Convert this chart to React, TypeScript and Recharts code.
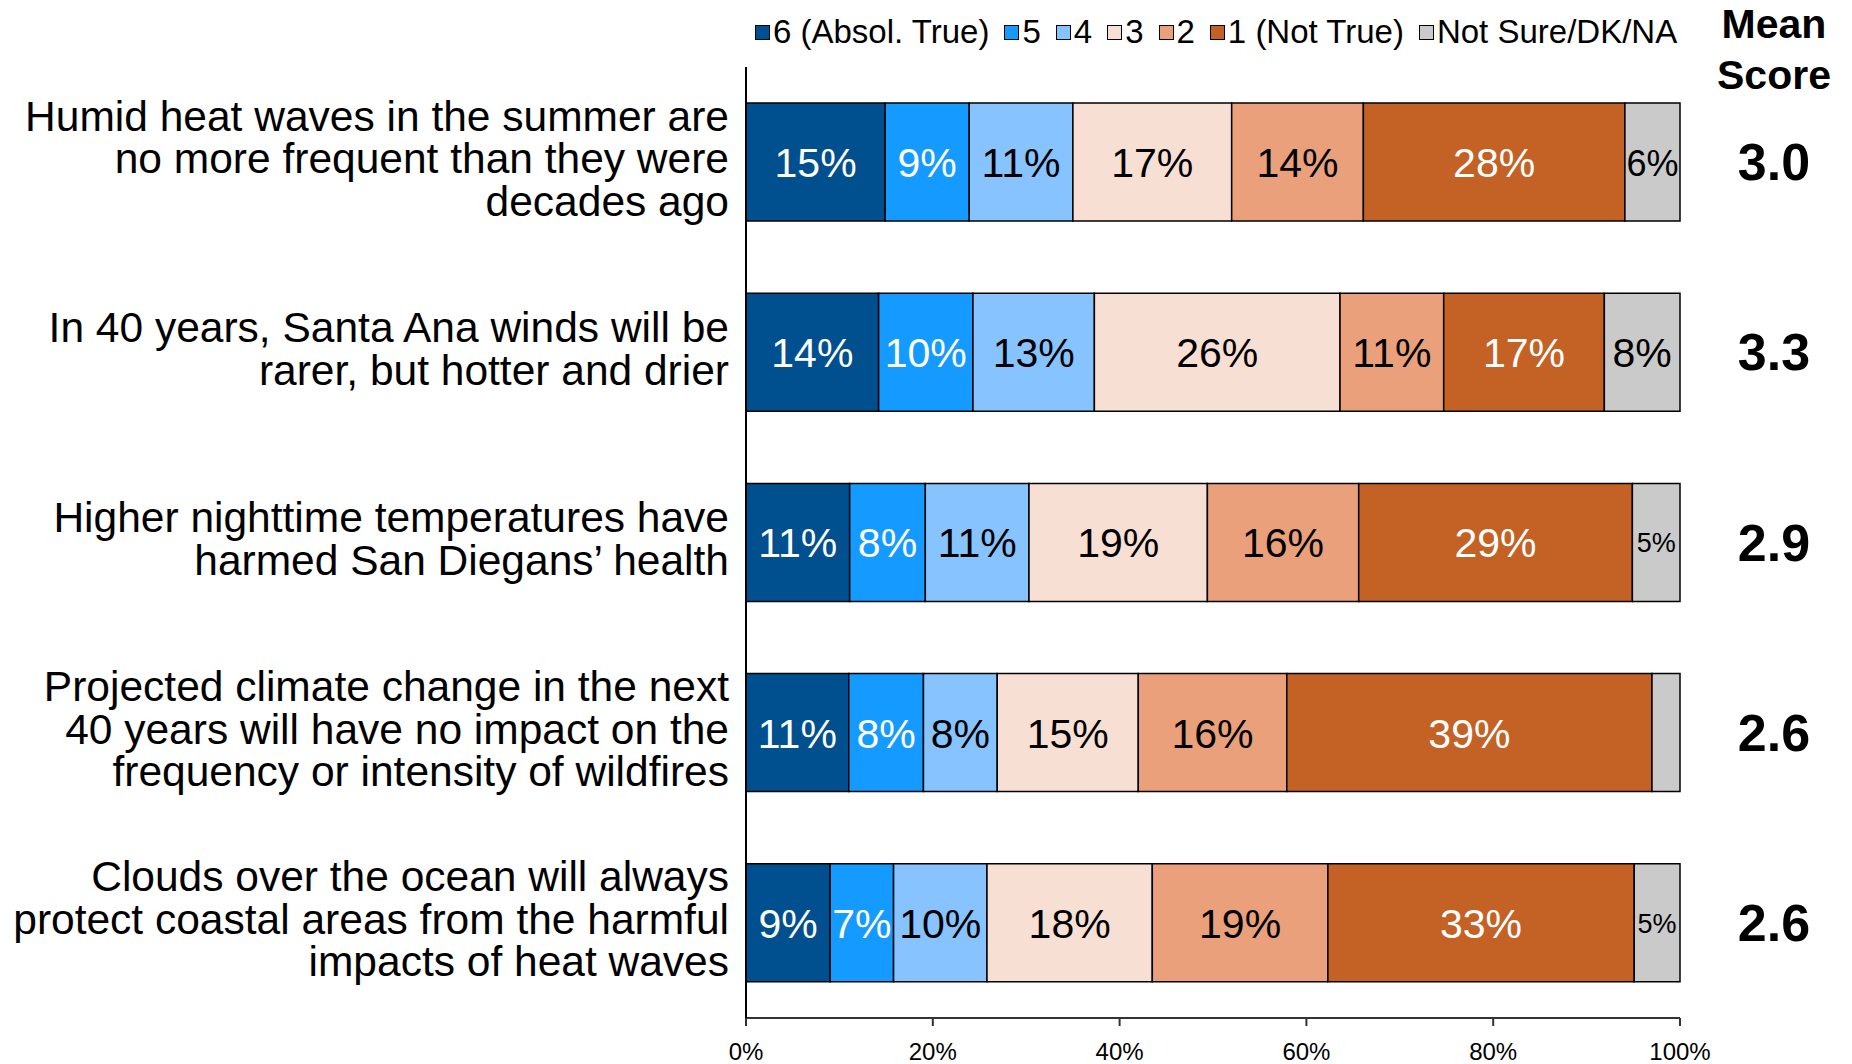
import React from 'react';
import { BarChart, Bar, XAxis, YAxis, LabelList, Legend } from 'recharts';

const questionLines = [
  ['Humid heat waves in the summer are', 'no more frequent than they were', 'decades ago'],
  ['In 40 years, Santa Ana winds will be', 'rarer, but hotter and drier'],
  ['Higher nighttime temperatures have', 'harmed San Diegans’ health'],
  ['Projected climate change in the next', '40 years will have no impact on the', 'frequency or intensity of wildfires'],
  ['Clouds over the ocean will always', 'protect coastal areas from the harmful', 'impacts of heat waves'],
];
const meanScores = ['3.0', '3.3', '2.9', '2.6', '2.6'];

// share of answers, %
const absolTrue = [14.9, 14.2, 11.1, 11.0, 9.0];
const five = [9.0, 10.1, 8.1, 8.0, 6.8];
const four = [11.1, 13.0, 11.1, 7.9, 10.0];
const three = [17.0, 26.3, 19.1, 15.1, 17.7];
const two = [14.1, 11.1, 16.2, 15.9, 18.8];
const notTrue = [28.0, 17.2, 29.3, 39.1, 32.8];
const notSure = [5.9, 8.1, 5.1, 3.0, 4.9];

const xTicks = [0, 20, 40, 60, 80, 100];

const FONT = '"Liberation Sans", Arial, sans-serif';

const series = [
  { key: 'absolTrue', name: '6 (Absol. True)', color: '#00508F', text: '#fff' },
  { key: 'five', name: '5', color: '#159BFF', text: '#fff' },
  { key: 'four', name: '4', color: '#86C3FF', text: '#000' },
  { key: 'three', name: '3', color: '#F8DFD4', text: '#000' },
  { key: 'two', name: '2', color: '#E9A07B', text: '#000' },
  { key: 'notTrue', name: '1 (Not True)', color: '#C46226', text: '#fff' },
  { key: 'notSure', name: 'Not Sure/DK/NA', color: '#CACACA', text: '#000' },
];

const data = questionLines.map((lines, i) => ({
  question: lines.join(' '),
  absolTrue: absolTrue[i],
  five: five[i],
  four: four[i],
  three: three[i],
  two: two[i],
  notTrue: notTrue[i],
  notSure: notSure[i],
}));

const QuestionTick = (props: any) => {
  const { x, y, payload } = props;
  const lines = questionLines[payload.index] || [];
  const lh = 42.5;
  const start = y - ((lines.length - 1) * lh) / 2 - 4;
  return (
    <text x={x} y={start} textAnchor="end" fontFamily={FONT} fontSize={42.5} fill="#000" dominantBaseline="central">
      {lines.map((l, i) => (
        <tspan key={i} x={x} y={start + i * lh}>{l}</tspan>
      ))}
    </text>
  );
};

const MeanTick = (props: any) => {
  const { x, y, payload } = props;
  return (
    <text x={x + 94} y={y} textAnchor="middle" dominantBaseline="central" fontFamily={FONT} fontWeight="bold" fontSize={52} fill="#000">
      {meanScores[payload.index]}
    </text>
  );
};

const makeLabel = (textColor: string, isNA: boolean) => (props: any) => {
  const { x, y, width, height, value } = props;
  if (value < 4) return null;
  let fs = 41;
  if (isNA) fs = value >= 7.5 ? 41 : value >= 5.5 ? 36 : 27;
  return (
    <text
      x={x + width / 2}
      y={y + height / 2 + 1}
      textAnchor="middle"
      dominantBaseline="central"
      fontFamily={FONT}
      fontSize={fs}
      fill={textColor}
    >
      {`${Math.round(value)}%`}
    </text>
  );
};

const renderLegend = () => (
  <div style={{ display: 'flex', alignItems: 'center', fontFamily: FONT, fontSize: 33, color: '#000', whiteSpace: 'nowrap', lineHeight: '38px' }}>
    {series.map((s) => (
      <div key={s.key} style={{ display: 'flex', alignItems: 'center', marginRight: 15 }}>
        <span style={{ display: 'inline-block', width: 13, height: 13, background: s.color, border: '1.5px solid #000', marginRight: 3 }} />
        <span>{s.name}</span>
      </div>
    ))}
  </div>
);

const MeanHeader = (props: any) => {
  const vb = props.viewBox || {};
  const cx = (vb.x || 1680) + 94;
  return (
    <g>
      <text x={cx} y={24} textAnchor="middle" dominantBaseline="central" fontFamily={FONT} fontWeight="bold" fontSize={41} fill="#000">Mean</text>
      <text x={cx} y={75} textAnchor="middle" dominantBaseline="central" fontFamily={FONT} fontWeight="bold" fontSize={41} fill="#000">Score</text>
    </g>
  );
};

export default function App() {
  return (
    <div style={{ width: 1852, height: 1064, background: '#fff' }}>
      <style>{'body{margin:0;background:#fff}'}</style>
      <BarChart
        width={1852}
        height={1064}
        data={data}
        layout="vertical"
        margin={{ top: 67, right: 0, bottom: 0, left: 0 }}
        barSize={118}
      >
        <XAxis
          type="number"
          domain={[0, 100]}
          ticks={xTicks}
          tickFormatter={(v) => `${v}%`}
          height={46}
          axisLine={{ stroke: '#333', strokeWidth: 2 }}
          tickLine={{ stroke: '#333', strokeWidth: 2 }}
          tickSize={8}
          tickMargin={17}
          tick={{ fontFamily: FONT, fontSize: 24, fill: '#000' }}
        />
        <YAxis
          type="category"
          dataKey="question"
          width={746}
          axisLine={{ stroke: '#000', strokeWidth: 2 }}
          tickLine={false}
          tickSize={0}
          tickMargin={17}
          tick={<QuestionTick />}
        />
        <YAxis
          yAxisId="mean"
          orientation="right"
          type="category"
          dataKey="question"
          width={172}
          axisLine={false}
          tickLine={false}
          tickSize={0}
          tickMargin={0}
          tick={<MeanTick />}
          label={{ content: <MeanHeader /> }}
        />
        <Legend
          layout="horizontal"
          verticalAlign="middle"
          align="center"
          content={renderLegend}
          wrapperStyle={{ top: 13, left: 755, width: 'auto' }}
        />
        {series.map((s) => (
          <Bar
            key={s.key}
            dataKey={s.key}
            name={s.name}
            stackId="a"
            fill={s.color}
            stroke="#000"
            strokeWidth={1.5}
            isAnimationActive={false}
          >
            <LabelList dataKey={s.key} content={makeLabel(s.text, s.key === 'notSure')} />
          </Bar>
        ))}
      </BarChart>
    </div>
  );
}
